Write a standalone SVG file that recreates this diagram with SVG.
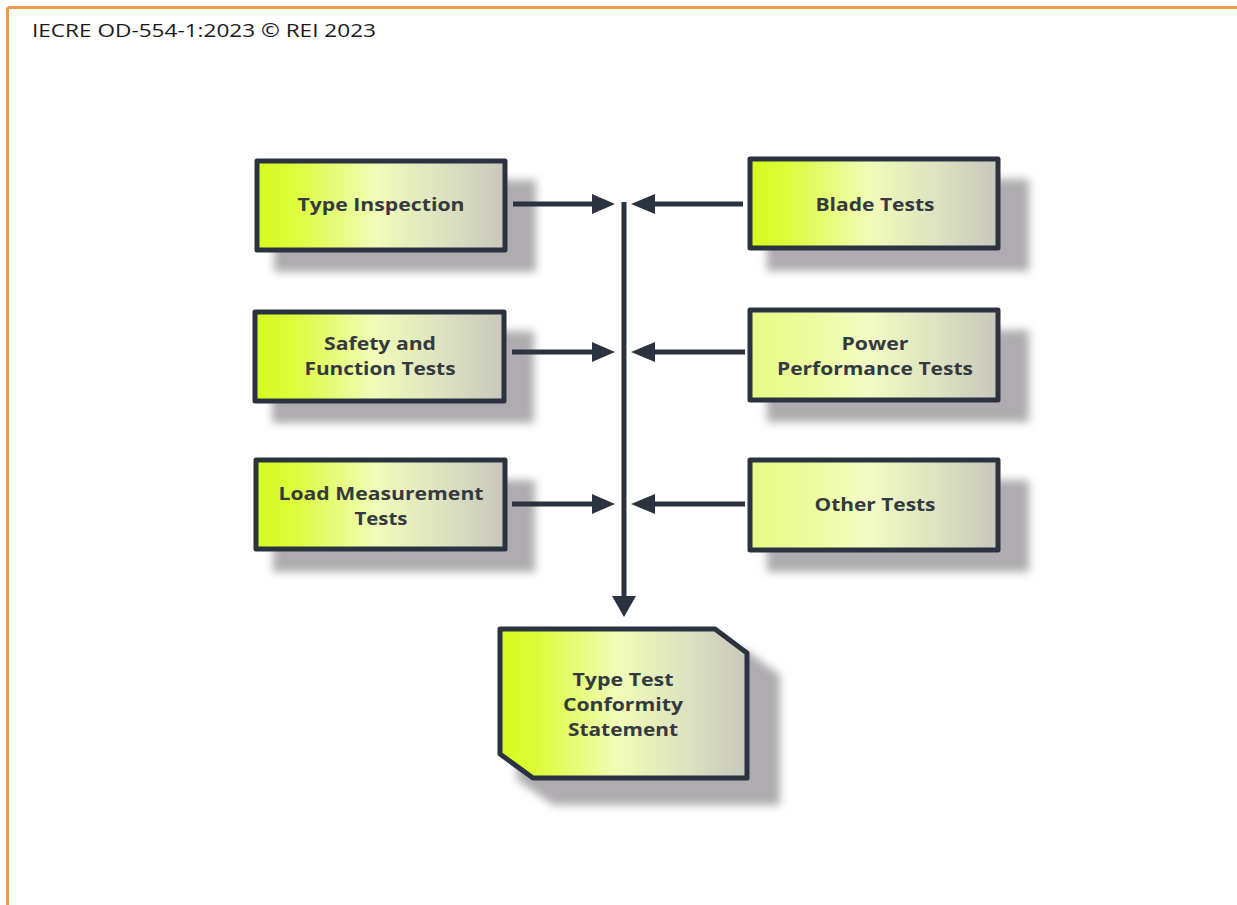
<svg xmlns="http://www.w3.org/2000/svg" width="1237" height="905" viewBox="0 0 1237 905">
<style>
.box{stroke:#2b3240;stroke-width:5;stroke-linejoin:round}
.strong{fill:url(#gStrong)}
.pale{fill:url(#gPale)}
.shadow{fill:#aeacae;filter:url(#blur)}
.lbl{font-family:"Open Sans","DejaVu Sans",sans-serif;font-weight:bold;font-size:18.5px;fill:#343a40;text-anchor:middle}
.conn{stroke:#2b3240;stroke-width:5;fill:none}
.head{fill:#2b3240}
</style>
<defs>
<linearGradient id="gStrong" x1="0" y1="0" x2="1" y2="0">
<stop offset="0" stop-color="#d6fb1e"/>
<stop offset="0.15" stop-color="#dcfc3a"/>
<stop offset="0.48" stop-color="#f0fcb8"/>
<stop offset="0.75" stop-color="#dde2c0"/>
<stop offset="1" stop-color="#c8c8bc"/>
</linearGradient>
<linearGradient id="gPale" x1="0" y1="0" x2="1" y2="0">
<stop offset="0" stop-color="#e8fb88"/>
<stop offset="0.2" stop-color="#ebfb98"/>
<stop offset="0.48" stop-color="#f2fbc4"/>
<stop offset="0.75" stop-color="#dde2c0"/>
<stop offset="1" stop-color="#c8c8bc"/>
</linearGradient>
<filter id="blur" x="-20%" y="-20%" width="140%" height="140%">
<feGaussianBlur stdDeviation="4.5"/>
</filter>
</defs>
<rect width="1237" height="905" fill="#ffffff"/>
<g id="frame">
<line x1="7.5" y1="7.5" x2="1237" y2="7.5" stroke="#ef9a48" stroke-width="3"/>
<line x1="7.5" y1="7.5" x2="7.5" y2="905" stroke="#ef9a48" stroke-width="3"/>
</g>
<text x="32" y="37" font-family="Open Sans,DejaVu Sans,sans-serif" font-size="18" fill="#1a1a1a" textLength="344" lengthAdjust="spacingAndGlyphs">IECRE OD-554-1:2023 © REI 2023</text>

<g id="node-type-inspection">
<rect class="shadow" x="274" y="180" width="262" height="92"/>
<rect class="box strong" x="257" y="161" width="248" height="89"/>
<text class="lbl" x="381" y="211" textLength="167" lengthAdjust="spacingAndGlyphs">Type Inspection</text>
</g>
<g id="node-safety">
<rect class="shadow" x="272" y="331" width="262" height="92"/>
<rect class="box strong" x="255" y="312" width="249" height="89"/>
<text class="lbl" x="380" y="350" textLength="112" lengthAdjust="spacingAndGlyphs">Safety and</text>
<text class="lbl" x="380" y="375" textLength="151" lengthAdjust="spacingAndGlyphs">Function Tests</text>
</g>
<g id="node-load">
<rect class="shadow" x="273" y="480" width="262" height="92"/>
<rect class="box strong" x="256" y="460" width="249" height="89"/>
<text class="lbl" x="381" y="500" textLength="205" lengthAdjust="spacingAndGlyphs">Load Measurement</text>
<text class="lbl" x="381" y="525" textLength="53" lengthAdjust="spacingAndGlyphs">Tests</text>
</g>
<g id="node-blade">
<rect class="shadow" x="767" y="179" width="262" height="92"/>
<rect class="box strong" x="750" y="159" width="248" height="89"/>
<text class="lbl" x="875" y="211" textLength="119" lengthAdjust="spacingAndGlyphs">Blade Tests</text>
</g>
<g id="node-power">
<rect class="shadow" x="767" y="330" width="262" height="92"/>
<rect class="box pale" x="750" y="310" width="248" height="90"/>
<text class="lbl" x="875" y="350" textLength="67" lengthAdjust="spacingAndGlyphs">Power</text>
<text class="lbl" x="875" y="375" textLength="196" lengthAdjust="spacingAndGlyphs">Performance Tests</text>
</g>
<g id="node-other">
<rect class="shadow" x="767" y="480" width="262" height="92"/>
<rect class="box pale" x="750" y="460" width="248" height="90"/>
<text class="lbl" x="875" y="511" textLength="121" lengthAdjust="spacingAndGlyphs">Other Tests</text>
</g>
<g id="node-statement">
<path class="shadow" d="M517 650 H746 L780 675 V805 H553 L517 780 Z"/>
<path class="box strong" d="M500 629 H715 L747 653 V778 H533 L500 754 Z"/>
<text class="lbl" x="623" y="686" textLength="101" lengthAdjust="spacingAndGlyphs">Type Test</text>
<text class="lbl" x="623" y="711" textLength="120" lengthAdjust="spacingAndGlyphs">Conformity</text>
<text class="lbl" x="623" y="736" textLength="110" lengthAdjust="spacingAndGlyphs">Statement</text>
</g>

<g id="connectors">
<line class="conn" x1="624" y1="202" x2="624" y2="598"/>
<polygon class="head" points="612,596 636,596 624,617"/>
<line class="conn" x1="513" y1="204" x2="595" y2="204"/>
<polygon class="head" points="592,194 592,214 615,204"/>
<line class="conn" x1="512" y1="352" x2="595" y2="352"/>
<polygon class="head" points="592,342 592,362 615,352"/>
<line class="conn" x1="512" y1="504" x2="595" y2="504"/>
<polygon class="head" points="592,494 592,514 615,504"/>
<line class="conn" x1="743" y1="204" x2="652" y2="204"/>
<polygon class="head" points="655,194 655,214 631,204"/>
<line class="conn" x1="745" y1="352" x2="652" y2="352"/>
<polygon class="head" points="655,342 655,362 631,352"/>
<line class="conn" x1="745" y1="504" x2="652" y2="504"/>
<polygon class="head" points="655,494 655,514 631,504"/>
</g>
</svg>
